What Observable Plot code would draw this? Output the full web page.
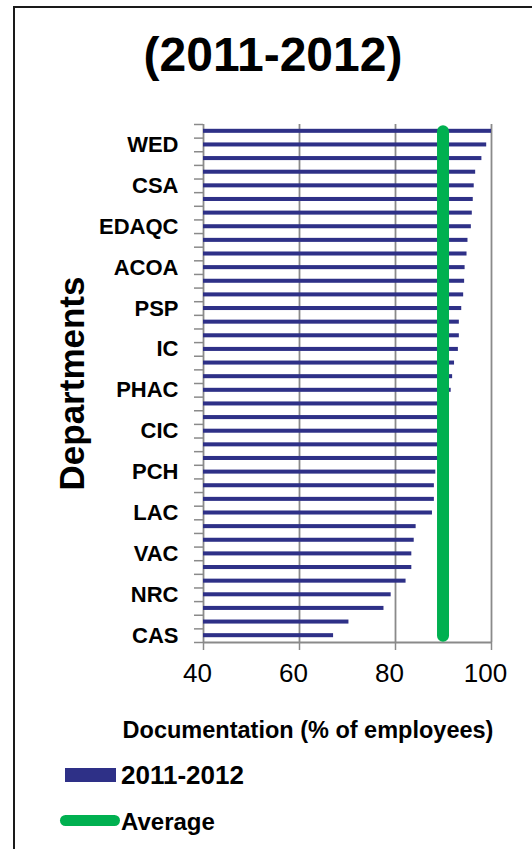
<!DOCTYPE html>
<html>
<head>
<meta charset="utf-8">
<script src="https://cdn.jsdelivr.net/npm/d3@7"></script>
<script src="https://cdn.jsdelivr.net/npm/@observablehq/plot@0.6"></script>
<style>
  html, body { margin: 0; padding: 0; background: #fff; }
  #wrap { position: relative; width: 532px; height: 849px; overflow: hidden; font-family: "Liberation Sans", Arial, sans-serif; color: #000; }
  #border { position: absolute; left: 13px; top: 6px; width: 700px; height: 1000px; border-left: 2px solid #1a1a1a; border-top: 2px solid #1a1a1a; }
  #title { position: relative; height: 104px; box-sizing: border-box; padding-top: 31px; padding-left: 14px; text-align: center; font-size: 48px; line-height: 48px; font-weight: bold; }
  #chart svg { display: block; }
  #legend { position: relative; height: 95px; }
  .sw { position: absolute; }
  .lt { position: absolute; font-size: 25px; font-weight: bold; line-height: 25px; }
</style>
</head>
<body>
<div id="wrap">
  <div id="border"></div>
  <div id="title">(2011-2012)</div>
  <div id="chart"></div>
  <div id="legend">
    <div class="sw" style="left:65px; top:14px; width:51px; height:14px; background:#2E3087;"></div>
    <div class="lt" style="left:121px; top:9px; font-size:26px;">2011-2012</div>
    <div class="sw" style="left:60px; top:61px; width:60px; height:11px; border-radius:6px; background:#00B050;"></div>
    <div class="lt" style="left:121px; top:55px; font-size:24px;">Average</div>
  </div>
</div>
<script>
// Documentation (% of employees), departments ordered top to bottom
const values = [
  100, 99.0, 98.0, 96.7, 96.4, 96.2, 96.0, 95.8, 95.1,
  94.9, 94.5, 94.4, 94.2, 93.8, 93.3, 93.3, 93.1, 92.3,
  91.9, 91.6, 90.8, 90.4, 89.9, 89.4, 89.0, 88.4, 88.1,
  88.1, 87.7, 84.3, 83.9, 83.4, 83.4, 82.2, 79.1, 77.6, 70.3, 67.1
];
// Only every third department is labelled on the axis (top to bottom)
const tickLabels = ["WED", "CSA", "EDAQC", "ACOA", "PSP", "IC", "PHAC", "CIC", "PCH", "LAC", "VAC", "NRC", "CAS"];
const averageValue = 89.9;
const xTicks = [40, 60, 80, 100];
const xDomain = [40, 100];

const nRows = values.length;
const rows = values.map((v, i) => ({
  rank: i,
  value: v,
  name: (i % 3 === 1) ? tickLabels[(i - 1) / 3] : ""
}));
const labelled = rows.filter(d => d.name !== "");

const gray = "#8a8a8a";
const navy = "#2E3087";
const green = "#00B050";

const chart = Plot.plot({
  width: 532,
  height: 650,
  marginLeft: 203,
  marginRight: 41,
  marginTop: 20,
  marginBottom: 112,
  style: { fontFamily: '"Liberation Sans", Arial, sans-serif', color: "#000", background: "transparent" },
  x: { domain: xDomain },
  y: { domain: [nRows, 0] },
  marks: [
    Plot.ruleX(xTicks, { stroke: gray, strokeWidth: 1.8 }),
    Plot.ruleY([nRows], { stroke: gray, strokeWidth: 1.8 }),
    Plot.rectX(rows, {
      x1: () => xDomain[0], x2: "value",
      y1: d => d.rank, y2: d => d.rank + 1,
      insetTop: 4.8, insetBottom: 4.8,
      fill: navy
    }),
    Plot.line(rows, {
      x: () => averageValue, y: d => d.rank + 0.5,
      stroke: green, strokeWidth: 12, strokeLinecap: "round"
    }),
    Plot.axisY(d3.range(0, nRows + 1), {
      tickSize: 9, tickFormat: () => "", stroke: gray, strokeWidth: 1.5, label: null
    }),
    Plot.text(labelled, {
      y: d => d.rank + 0.5, text: "name", frameAnchor: "left", dx: -25,
      textAnchor: "end", fontSize: 22, fontWeight: "bold", fill: "#000"
    }),
    Plot.axisX(xTicks, {
      tickSize: 8, tickFormat: () => "", stroke: gray, strokeWidth: 1.5, label: null
    }),
    Plot.text(xTicks, {
      x: d => d, text: d => String(d), frameAnchor: "bottom", lineAnchor: "top",
      dy: 21, dx: -6, fontSize: 26, fill: "#000"
    }),
    Plot.text(["Departments"], {
      frameAnchor: "left", dx: -131, rotate: -90, textAnchor: "middle", lineAnchor: "middle",
      fontSize: 35, fontWeight: "bold", fill: "#000"
    }),
    Plot.text(["Documentation (% of employees)"], {
      frameAnchor: "bottom", dy: 95, dx: -39.5, fontSize: 23.5, fontWeight: "bold", fill: "#000"
    })
  ]
});
document.getElementById("chart").appendChild(chart);
</script>
</body>
</html>
